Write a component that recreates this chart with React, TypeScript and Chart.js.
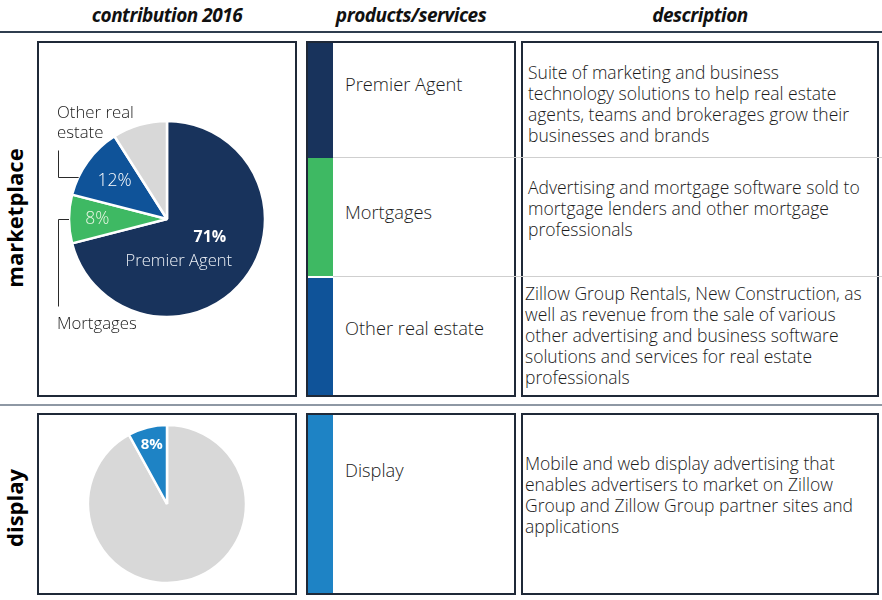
import React, { useEffect, useRef } from "react";
import { Chart, registerables } from "chart.js";

Chart.register(...registerables);

// ---------- data ----------
const headerLabels = ["contribution 2016", "products/services", "description"];
const sectionLabels = ["marketplace", "display"];

const marketCategories = ["Premier Agent", "Mortgages", "Other real estate", "Rest of revenue"];
const marketShares = [71, 8, 12, 9];

const displayCategories = ["Rest of revenue", "Display"];
const displayShares = [92, 8];

const productNames = ["Premier Agent", "Mortgages", "Other real estate", "Display"];

const descPremier = [
  "Suite of marketing and business",
  "technology solutions to help real estate",
  "agents, teams and brokerages grow their",
  "businesses and brands",
];
const descMortgages = [
  "Advertising and mortgage software sold to",
  "mortgage lenders and other mortgage",
  "professionals",
];
const descOther = [
  "Zillow Group Rentals, New Construction, as",
  "well as revenue from the sale of various",
  "other advertising and business software",
  "solutions and services for real estate",
  "professionals",
];
const descDisplay = [
  "Mobile and web display advertising that",
  "enables advertisers to market on Zillow",
  "Group and Zillow Group partner sites and",
  "applications",
];

// ---------- styles ----------
const NAVY = "#18335c";
const GREEN = "#3eb963";
const BLUE = "#0f5399";
const GRAY = "#d8d8d8";
const DISPLAY_BLUE = "#1e83c5";
const BORDER = "#1f2938";
const FONT = "'Open Sans', 'Noto Sans', sans-serif";
const TEXT = "#1a1a1a";

const sliceLabelPlugin = {
  id: "sliceLabels",
  afterDatasetsDraw(chart: any, _args: any, opts: any) {
    const meta = chart.getDatasetMeta(0);
    const ctx = chart.ctx as CanvasRenderingContext2D;
    const values = chart.data.datasets[0].data as number[];
    ctx.save();
    (opts.inner || []).forEach((item: any) => {
      const arc = meta.data[item.index];
      const p = arc.getProps(["x", "y", "startAngle", "endAngle", "outerRadius"], true);
      const mid = (p.startAngle + p.endAngle) / 2;
      const r = p.outerRadius * item.frac;
      const cx = p.x + Math.cos(mid) * r;
      const cy = p.y + Math.sin(mid) * r;
      item.lines.forEach((l: any) => {
        ctx.font = l.font;
        ctx.fillStyle = l.color;
        ctx.textAlign = "center";
        ctx.textBaseline = "middle";
        const t = l.text === "%" ? values[item.index] + "%" : l.text;
        ctx.fillText(t, cx + (l.dx || 0), cy + (l.dy || 0));
      });
    });
    (opts.outer || []).forEach((o: any) => {
      const arc = meta.data[o.index];
      const p = arc.getProps(["x", "y", "startAngle", "endAngle", "outerRadius"], true);
      const a = p.startAngle + (p.endAngle - p.startAngle) * o.at;
      const ex = p.x + Math.cos(a) * p.outerRadius;
      const ey = p.y + Math.sin(a) * p.outerRadius;
      const vx = Math.round(p.x - p.outerRadius - o.gap) + 0.5;
      const hy = Math.round(ey) + 0.5;
      ctx.strokeStyle = "#2a2a2a";
      ctx.lineWidth = 1;
      ctx.beginPath();
      ctx.moveTo(ex, hy);
      ctx.lineTo(vx, hy);
      ctx.lineTo(vx, hy + o.len);
      ctx.stroke();
      ctx.font = o.font;
      ctx.fillStyle = TEXT;
      ctx.textAlign = "left";
      ctx.textBaseline = "middle";
      o.lines.forEach((t: string, i: number) => {
        ctx.fillText(t, vx - 1.5, hy + o.textDy + i * o.lineGap);
      });
    });
    ctx.restore();
  },
};

type PieProps = {
  width: number;
  height: number;
  labels: string[];
  values: number[];
  colors: string[];
  radius: number;
  labelOpts: any;
};

function PieChart({ width, height, labels, values, colors, radius, labelOpts }: PieProps) {
  const ref = useRef<HTMLCanvasElement | null>(null);
  useEffect(() => {
    if (!ref.current) return;
    const chart = new Chart(ref.current, {
      type: "pie",
      data: {
        labels,
        datasets: [
          {
            data: values,
            backgroundColor: colors,
            borderColor: "#ffffff",
            borderWidth: 2.5,
            radius,
          } as any,
        ],
      },
      options: {
        responsive: false,
        animation: false,
        devicePixelRatio: 1,
        events: [],
        layout: { padding: 0 },
        plugins: {
          legend: { display: false },
          tooltip: { enabled: false },
          sliceLabels: labelOpts,
        } as any,
      },
      plugins: [sliceLabelPlugin],
    });
    return () => chart.destroy();
  }, []);
  return <canvas ref={ref} width={width} height={height} style={{ display: "block", width, height }} />;
}

const abs = (s: React.CSSProperties): React.CSSProperties => ({ position: "absolute", ...s });

const boxStyle = (left: number, top: number, width: number, height: number): React.CSSProperties =>
  abs({ left, top, width, height, border: `2px solid ${BORDER}`, boxSizing: "border-box", background: "#fff" });

function TextBlock({ left, top, lines }: { left: number; top: number; lines: string[] }) {
  return (
    <div
      style={abs({
        left,
        top,
        fontFamily: FONT,
        fontSize: 17.5,
        fontWeight: 300,
        lineHeight: "21px",
        color: TEXT,
        whiteSpace: "nowrap",
      })}
    >
      {lines.map((l, i) => (
        <div key={i}>{l}</div>
      ))}
    </div>
  );
}

function Product({ top, name }: { top: number; name: string }) {
  return (
    <div
      style={abs({
        left: 345,
        top: top - 12,
        fontFamily: FONT,
        fontSize: 18.3,
        fontWeight: 300,
        lineHeight: "24px",
        color: TEXT,
        whiteSpace: "nowrap",
      })}
    >
      {name}
    </div>
  );
}

export default function App() {
  const marketLabelOpts = {
    inner: [
      {
        index: 0,
        frac: 0.45,
        lines: [
          { text: "%", font: `bold 16px ${FONT}`, color: "#ffffff", dx: 8, dy: -9 },
          { text: "Premier Agent", font: `300 16.6px ${FONT}`, color: "#eef2f7", dx: -23, dy: 15 },
        ],
      },
      { index: 2, frac: 0.66, lines: [{ text: "%", font: `300 17.5px ${FONT}`, color: "#ffffff" }] },
      { index: 1, frac: 0.71, lines: [{ text: "%", font: `300 17.5px ${FONT}`, color: "#eaf7e4" }] },
    ],
    outer: [
      {
        index: 2,
        at: 0.26,
        gap: 11,
        len: -27,
        font: `300 16.8px ${FONT}`,
        lines: ["Other real", "estate"],
        textDy: -64,
        lineGap: 20,
      },
      {
        index: 1,
        at: 0.5,
        gap: 11,
        len: 87,
        font: `300 16.8px ${FONT}`,
        lines: ["Mortgages"],
        textDy: 105,
        lineGap: 20,
      },
    ],
  };

  const displayLabelOpts = {
    inner: [{ index: 1, frac: 0.78, lines: [{ text: "%", font: `bold 15px ${FONT}`, color: "#ffffff" }] }],
    outer: [],
  };

  return (
    <div style={abs({ left: 0, top: 0, width: 882, height: 600, background: "#fff", overflow: "hidden" })}>
      {/* header */}
      {headerLabels.map((h, i) => (
        <div
          key={h}
          style={abs({
            left: [167, 411, 700][i],
            top: 15,
            transform: "translate(-50%, -50%)",
            fontFamily: FONT,
            fontWeight: 700,
            fontStyle: "italic",
            fontSize: 19,
            letterSpacing: -0.5,
            color: "#111",
            whiteSpace: "nowrap",
          })}
        >
          {h}
        </div>
      ))}
      <div style={abs({ left: 0, top: 31, width: 882, height: 2, background: "#2f3d4f" })} />
      <div style={abs({ left: 0, top: 404, width: 882, height: 2, background: "#8e98a4" })} />

      {/* section labels */}
      {sectionLabels.map((s, i) => (
        <div
          key={s}
          style={abs({
            left: 14,
            top: [218, 508][i],
            transform: "translate(-50%, -50%) rotate(-90deg)",
            fontFamily: FONT,
            fontWeight: 700,
            fontSize: 22,
            color: "#000",
            whiteSpace: "nowrap",
          })}
        >
          {s}
        </div>
      ))}

      {/* row 1 */}
      <div style={boxStyle(37, 41, 260, 356)}>
        <PieChart
          width={256}
          height={352}
          labels={marketCategories}
          values={marketShares}
          colors={[NAVY, GREEN, BLUE, GRAY]}
          radius={98}
          labelOpts={marketLabelOpts}
        />
      </div>
      <div style={boxStyle(306, 41, 210, 356)}>
        <div style={abs({ left: 0, top: 0, width: 25, height: 115, background: NAVY })} />
        <div style={abs({ left: 0, top: 115, width: 25, height: 118, background: GREEN })} />
        <div style={abs({ left: 0, top: 235, width: 25, height: 117, background: BLUE })} />
      </div>
      <div style={boxStyle(521, 41, 358, 356)} />
      <div style={abs({ left: 333, top: 157, width: 549, height: 1, background: "#cfcfcf" })} />
      <div style={abs({ left: 333, top: 276, width: 549, height: 1, background: "#cfcfcf" })} />

      <Product top={84} name={productNames[0]} />
      <Product top={212} name={productNames[1]} />
      <Product top={328} name={productNames[2]} />

      <TextBlock left={528} top={62} lines={descPremier} />
      <TextBlock left={528} top={177} lines={descMortgages} />
      <TextBlock left={525} top={283} lines={descOther} />

      {/* row 2 */}
      <div style={boxStyle(37, 413, 260, 182)}>
        <PieChart
          width={256}
          height={178}
          labels={displayCategories}
          values={displayShares}
          colors={[GRAY, DISPLAY_BLUE]}
          radius={79}
          labelOpts={displayLabelOpts}
        />
      </div>
      <div style={boxStyle(306, 413, 210, 182)}>
        <div style={abs({ left: 0, top: 0, width: 25, height: 178, background: DISPLAY_BLUE })} />
      </div>
      <div style={boxStyle(521, 413, 358, 182)} />
      <Product top={470} name={productNames[3]} />
      <TextBlock left={525} top={453} lines={descDisplay} />
    </div>
  );
}
